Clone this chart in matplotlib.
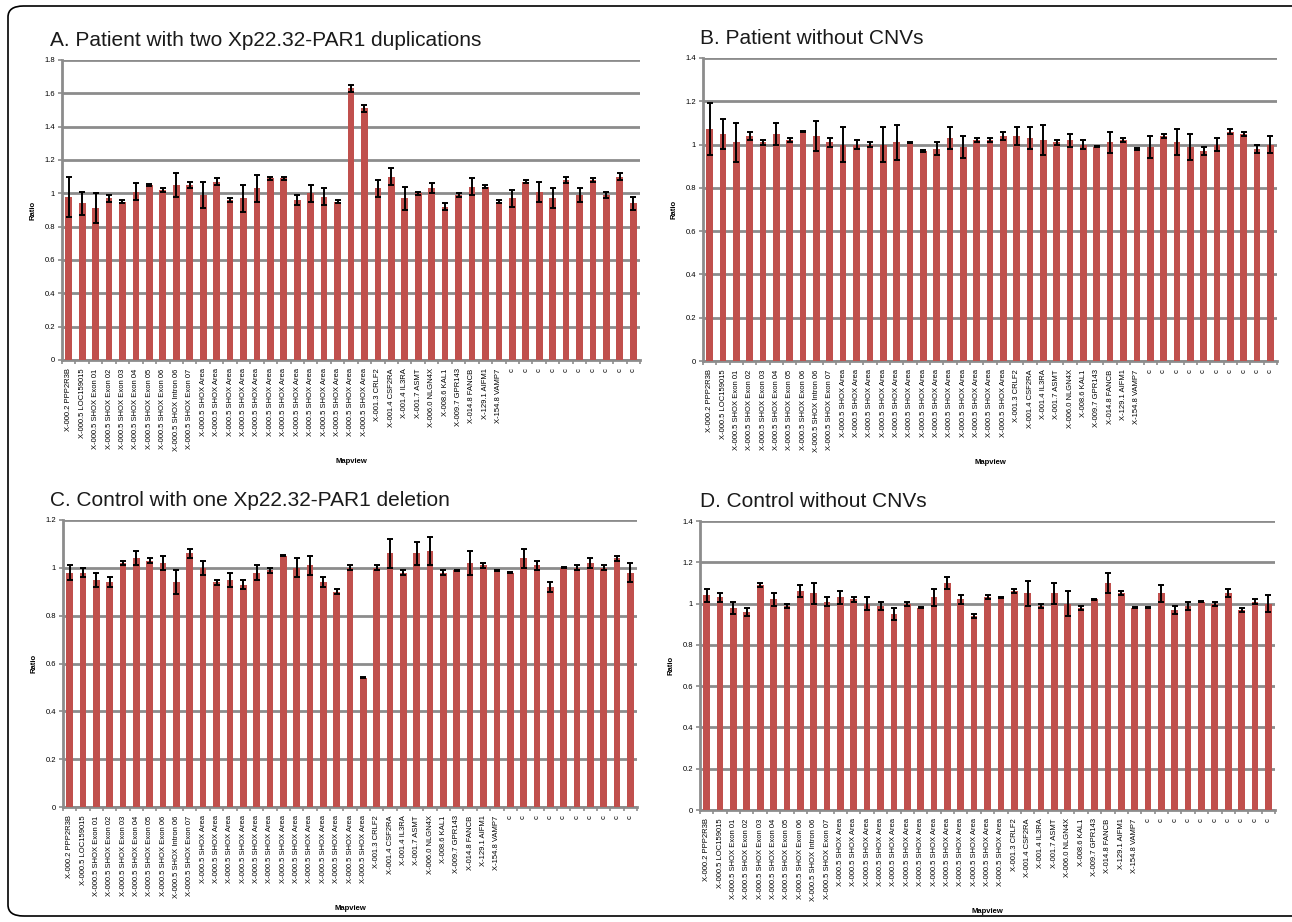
import numpy as np
import matplotlib.pyplot as plt
from matplotlib.patches import FancyBboxPatch

plt.rcParams['font.family'] = ['Liberation Sans', 'DejaVu Sans']

# probe labels (same order in all four panels)
labels = (["X-000.2 PPP2R3B", "X-000.5 LOC159015",
           "X-000.5 SHOX Exon 01", "X-000.5 SHOX Exon 02", "X-000.5 SHOX Exon 03",
           "X-000.5 SHOX Exon 04", "X-000.5 SHOX Exon 05", "X-000.5 SHOX Exon 06",
           "X-000.5 SHOX Intron 06", "X-000.5 SHOX Exon 07"]
          + ["X-000.5 SHOX Area"] * 13
          + ["X-001.3 CRLF2", "X-001.4 CSF2RA", "X-001.4 IL3RA", "X-001.7 ASMT",
             "X-006.0 NLGN4X", "X-008.6 KAL1", "X-009.7 GPR143", "X-014.8 FANCB",
             "X-129.1 AIFM1", "X-154.8 VAMP7"]
          + ["c"] * 10)

# A. patient with two duplications
ratio_a = [0.98, 0.94, 0.91, 0.97, 0.95, 1.01, 1.05, 1.02, 1.05, 1.05,
           0.99, 1.07, 0.96, 0.97, 1.03, 1.09, 1.09, 0.96, 1.00, 0.98,
           0.95, 1.63, 1.51, 1.03, 1.10, 0.97, 1.00, 1.03, 0.92, 0.99,
           1.04, 1.04, 0.95, 0.97, 1.07, 1.01, 0.97, 1.08, 0.99, 1.08,
           0.99, 1.10, 0.94]
err_a = [0.12, 0.07, 0.09, 0.02, 0.01, 0.05, 0.005, 0.01, 0.07, 0.02,
         0.08, 0.02, 0.01, 0.08, 0.08, 0.01, 0.01, 0.03, 0.05, 0.05,
         0.01, 0.02, 0.02, 0.05, 0.05, 0.07, 0.01, 0.03, 0.02, 0.01,
         0.05, 0.01, 0.01, 0.05, 0.01, 0.06, 0.06, 0.02, 0.04, 0.01,
         0.02, 0.02, 0.04]

# B. patient without CNVs
ratio_b = [1.07, 1.05, 1.01, 1.04, 1.01, 1.05, 1.02, 1.06, 1.04, 1.01,
           1.00, 1.00, 1.00, 1.00, 1.01, 1.01, 0.97, 0.98, 1.03, 0.99,
           1.02, 1.02, 1.04, 1.04, 1.03, 1.02, 1.01, 1.02, 1.00, 0.99,
           1.01, 1.02, 0.98, 0.99, 1.04, 1.01, 0.99, 0.97, 1.00, 1.06,
           1.05, 0.98, 1.00]
err_b = [0.12, 0.07, 0.09, 0.02, 0.01, 0.05, 0.01, 0.003, 0.07, 0.02,
         0.08, 0.02, 0.01, 0.08, 0.08, 0.003, 0.003, 0.03, 0.05, 0.05,
         0.01, 0.01, 0.02, 0.04, 0.05, 0.07, 0.01, 0.03, 0.02, 0.003,
         0.05, 0.01, 0.003, 0.05, 0.01, 0.06, 0.06, 0.02, 0.03, 0.01,
         0.01, 0.02, 0.04]

# C. control with one deletion
ratio_c = [0.98, 0.98, 0.95, 0.94, 1.02, 1.04, 1.03, 1.02, 0.94, 1.06,
           1.00, 0.94, 0.95, 0.93, 0.98, 0.99, 1.05, 1.00, 1.01, 0.94,
           0.90, 1.00, 0.54, 1.00, 1.06, 0.98, 1.06, 1.07, 0.98, 0.99,
           1.02, 1.01, 0.99, 0.98, 1.04, 1.01, 0.92, 1.00, 1.00, 1.02,
           1.00, 1.04, 0.98]
err_c = [0.03, 0.02, 0.03, 0.02, 0.01, 0.03, 0.01, 0.03, 0.05, 0.02,
         0.03, 0.01, 0.03, 0.02, 0.03, 0.01, 0.002, 0.04, 0.04, 0.02,
         0.01, 0.01, 0.002, 0.01, 0.06, 0.01, 0.05, 0.06, 0.01, 0.002,
         0.05, 0.01, 0.002, 0.002, 0.04, 0.02, 0.02, 0.002, 0.01, 0.02,
         0.01, 0.01, 0.04]

# D. control without CNVs
ratio_d = [1.04, 1.03, 0.98, 0.96, 1.09, 1.02, 0.99, 1.06, 1.05, 1.01,
           1.03, 1.02, 1.00, 0.99, 0.95, 1.00, 0.98, 1.03, 1.10, 1.02,
           0.94, 1.03, 1.03, 1.06, 1.05, 0.99, 1.05, 1.00, 0.98, 1.02,
           1.10, 1.05, 0.98, 0.98, 1.05, 0.97, 0.99, 1.01, 1.00, 1.05,
           0.97, 1.01, 1.00]
err_d = [0.03, 0.02, 0.03, 0.02, 0.01, 0.03, 0.01, 0.03, 0.05, 0.02,
         0.03, 0.01, 0.03, 0.02, 0.03, 0.01, 0.002, 0.04, 0.03, 0.02,
         0.01, 0.01, 0.002, 0.01, 0.06, 0.01, 0.05, 0.06, 0.01, 0.002,
         0.05, 0.01, 0.002, 0.002, 0.04, 0.02, 0.02, 0.002, 0.01, 0.02,
         0.01, 0.01, 0.04]

W, H = 1292, 922
fig = plt.figure(figsize=(W / 100, H / 100), dpi=100)

# rounded frame round the whole figure
frame = FancyBboxPatch((8 / W, 6 / H), 1300 / W, 910 / H,
                       boxstyle="round,pad=0,rounding_size=0.012",
                       transform=fig.transFigure, fill=False,
                       edgecolor='black', linewidth=1.2)
fig.patches.append(frame)

grid_col = '#8c8c8c'


def panel(box, title, title_xy, vals, errs, ymax):
    left, top, right, bottom = box
    ax = fig.add_axes([left / W, 1 - bottom / H, (right - left) / W, (bottom - top) / H])
    x = np.arange(len(vals))
    ax.bar(x, vals, width=0.5, color='#c0504d', zorder=3)
    ax.errorbar(x, vals, yerr=errs, fmt='none', ecolor='black',
                elinewidth=1.4, capsize=2.2, capthick=1.4, zorder=4)
    ax.set_xlim(-0.5, len(vals) - 0.5)
    ax.set_ylim(0, ymax)
    yt = np.arange(0, ymax + 0.001, 0.2)
    ax.set_yticks(yt)
    ax.set_yticklabels([f"{v:g}" for v in yt], fontsize=5.5)
    ax.yaxis.grid(True, color=grid_col, linewidth=2, zorder=0)
    ax.set_xticks(x)
    ax.set_xticklabels(labels, rotation=90, fontsize=5.5)
    ax.set_xticks(np.arange(-0.5, len(vals)), minor=True)
    ax.tick_params(axis='x', which='major', length=0, pad=6)
    ax.tick_params(axis='x', which='minor', length=3, width=1.2, color=grid_col)
    ax.tick_params(axis='y', length=3, width=1.2, color=grid_col, pad=2)
    for s in ['top', 'right']:
        ax.spines[s].set_visible(False)
    for s in ['left', 'bottom']:
        ax.spines[s].set_color(grid_col)
        ax.spines[s].set_linewidth(2)
    ax.set_ylabel("Ratio", fontsize=5.5, fontweight='bold', labelpad=6)
    ax.set_xlabel("Mapview", fontsize=5.5, fontweight='bold', labelpad=5)
    fig.text(title_xy[0] / W, 1 - title_xy[1] / H, title, fontsize=15,
             color='#1a1a1a', va='center', ha='left')
    return ax


panel((62, 60, 640, 360), "A. Patient with two Xp22.32-PAR1 duplications", (50, 40),
      ratio_a, err_a, 1.8)
panel((703, 58, 1277, 361), "B. Patient without CNVs", (700, 38),
      ratio_b, err_b, 1.4)
panel((63, 520, 637, 807), "C. Control with one Xp22.32-PAR1 deletion", (50, 500),
      ratio_c, err_c, 1.2)
panel((700, 521, 1275, 810), "D. Control without CNVs", (700, 501),
      ratio_d, err_d, 1.4)

fig.savefig("out.png", dpi=100)
